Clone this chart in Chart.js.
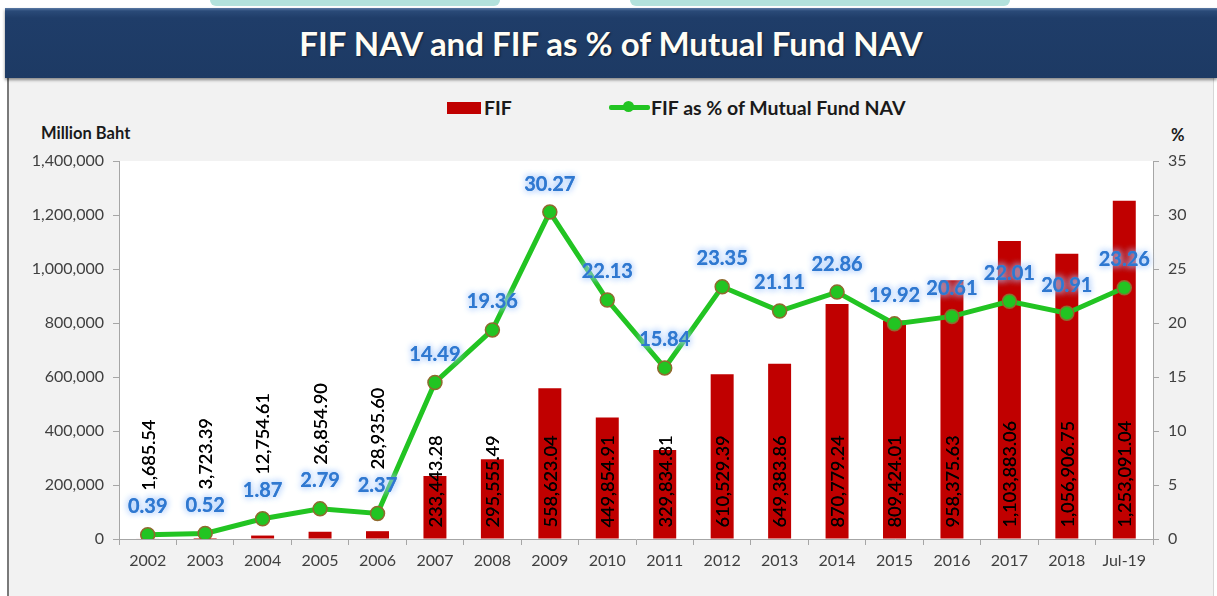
<!DOCTYPE html>
<html>
<head>
<meta charset="utf-8">
<script src="https://cdn.jsdelivr.net/npm/chart.js@4"></script>
<style>
  html, body { margin: 0; padding: 0; }
  body { width: 1217px; height: 596px; position: relative; overflow: hidden; background: #fff; font-family: Lato, "Open Sans", sans-serif; }
  .teal { position: absolute; top: 0; height: 6px; background: #b3e2dc; border-radius: 0 0 40px 40px; }
  #titleBar {
    position: absolute; left: 5px; top: 8px; width: 1212px; height: 70px;
    background: linear-gradient(#5a7aa5 0px, #2a4a78 3px, #1f3d69 10px, #1d3a64 100%);
    box-shadow: 0 2px 3px rgba(0,0,0,0.45);
    color: #fffdf5; font-weight: bold; font-size: 33px; text-align: center; line-height: 70px;
    text-shadow: 1px 1px 2px rgba(0,0,0,0.5); z-index: 2;
  }
  #panel { position: absolute; left: 7px; top: 78px; width: 1204px; height: 520px; background: #f2f2f2; border-left: 2px solid #7a7a7a; border-right: 1px solid #d6d6d6; }
  .lbl { position: absolute; font-weight: bold; color: #1a1a1a; }
  #legend { position: absolute; top: 96px; left: 447px; height: 24px; font-weight: bold; font-size: 19.5px; color: #1a1a1a; }
  #chartWrap { position: absolute; left: 10px; top: 140px; width: 1200px; height: 456px; }
</style>
</head>
<body>
<div class="teal" style="left:210px;width:290px;"></div>
<div class="teal" style="left:630px;width:380px;"></div>
<div id="panel"></div>
<div id="titleBar">FIF NAV and FIF as % of Mutual Fund NAV</div>
<div class="lbl" style="left:41px;top:123px;font-size:16.5px;">Million Baht</div>
<div class="lbl" style="left:1171px;top:125px;font-size:16.5px;">%</div>
<div id="legend">
  <span style="position:absolute;left:0;top:6px;width:34px;height:12px;background:#c00000;"></span>
  <span style="position:absolute;left:37px;top:0px;">FIF</span>
  <span style="position:absolute;left:162px;top:9px;width:41px;height:5px;background:#22c422;border-radius:2px;"></span>
  <span style="position:absolute;left:176px;top:5px;width:11px;height:11px;background:#22c422;border-radius:50%;"></span>
  <span style="position:absolute;left:204px;top:0px;white-space:nowrap;">FIF as % of Mutual Fund NAV</span>
</div>
<div id="chartWrap"><canvas id="chart" width="1200" height="456"></canvas></div>
<script>
// categories and series
const categories = ['2002', '2003', '2004', '2005', '2006', '2007', '2008', '2009', '2010',
  '2011', '2012', '2013', '2014', '2015', '2016', '2017', '2018', 'Jul-19'];
const fifNav = [1685.54, 3723.39, 12754.61, 26854.90, 28935.60, 233443.28, 295555.49,
  558623.04, 449854.91, 329834.81, 610529.39, 649383.86, 870779.24, 809424.01,
  958375.63, 1103883.06, 1056906.75, 1253091.04];
const fifPct = [0.39, 0.52, 1.87, 2.79, 2.37, 14.49, 19.36, 30.27, 22.13, 15.84,
  23.35, 21.11, 22.86, 19.92, 20.61, 22.01, 20.91, 23.26];
const leftMax = 1400000, leftStep = 200000;
const rightMax = 35, rightStep = 5;

const fmtNav = v => v.toLocaleString('en-US', { minimumFractionDigits: 2, maximumFractionDigits: 2 });

Chart.defaults.font.family = 'Lato, "Open Sans", sans-serif';

// white plot area
const plotBg = {
  id: 'plotBg',
  beforeDraw(chart) {
    const a = chart.chartArea;
    chart.ctx.save();
    chart.ctx.fillStyle = '#ffffff';
    chart.ctx.fillRect(a.left, a.top, a.right - a.left, a.bottom - a.top);
    chart.ctx.restore();
  }
};

// value labels
const valueLabels = {
  id: 'valueLabels',
  afterDatasetDraw(chart, args) {
    if (args.index !== 0) return;
    const ctx = chart.ctx;
    const lineMeta = chart.getDatasetMeta(1);
    ctx.save();
    ctx.font = '18px Lato, sans-serif';
    ctx.fillStyle = '#000';
    ctx.textAlign = 'left';
    ctx.textBaseline = 'middle';
    chart.getDatasetMeta(0).data.forEach((bar, i) => {
      let start;
      if (bar.base - bar.y < 30) start = lineMeta.data[i].y - 44;  // small bars: above the % label
      else start = bar.base - 11;
      ctx.save();
      ctx.translate(bar.x + 1, start);
      ctx.rotate(-Math.PI / 2);
      ctx.fillText(fmtNav(fifNav[i]), 0, 0);
      ctx.fillText(fmtNav(fifNav[i]), 0.3, 0);
      ctx.restore();
    });
    ctx.restore();
  },
  afterDatasetsDraw(chart) {
    const ctx = chart.ctx;
    ctx.save();
    ctx.font = 'bold 20px Lato, sans-serif';
    ctx.textAlign = 'center';
    ctx.textBaseline = 'middle';
    chart.getDatasetMeta(1).data.forEach((pt, i) => {
      const t = fifPct[i].toFixed(2);
      ctx.shadowColor = 'rgba(165,200,250,1)';
      ctx.shadowBlur = 7;
      ctx.fillStyle = '#2f78d0';
      ctx.fillText(t, pt.x, pt.y - 28);
      ctx.fillText(t, pt.x, pt.y - 28);
    });
    ctx.restore();
  }
};

new Chart(document.getElementById('chart'), {
  type: 'bar',
  data: {
    labels: categories,
    datasets: [
      {
        type: 'bar',
        label: 'FIF',
        data: fifNav,
        backgroundColor: '#c00000',
        borderWidth: 0,
        categoryPercentage: 1,
        barPercentage: 0.4,
        yAxisID: 'y',
        order: 1
      },
      {
        type: 'line',
        label: 'FIF as % of Mutual Fund NAV',
        data: fifPct,
        borderColor: '#22c422',
        borderWidth: 5,
        backgroundColor: '#22c422',
        pointRadius: 7,
        pointBorderColor: '#8f6a2e',
        pointBorderWidth: 1.5,
        pointBackgroundColor: '#22c422',
        tension: 0,
        yAxisID: 'y1',
        order: 0
      }
    ]
  },
  options: {
    responsive: false,
    animation: false,
    layout: { padding: { top: 21, left: 0, right: 0, bottom: 0 } },
    plugins: {
      legend: { display: false },
      tooltip: { enabled: false }
    },
    scales: {
      x: {
        afterFit: s => { s.height = 57; },
        grid: { drawOnChartArea: false, tickLength: 6, color: '#a6a6a6' },
        border: { color: '#a6a6a6', width: 1 },
        ticks: { color: '#404040', font: { size: 16 }, padding: 6, maxRotation: 0 }
      },
      y: {
        position: 'left',
        min: 0,
        max: leftMax,
        afterFit: s => { s.width = 109; },
        grid: { drawOnChartArea: false, tickLength: 6, color: '#a6a6a6' },
        border: { color: '#a6a6a6', width: 1 },
        ticks: {
          stepSize: leftStep,
          color: '#404040',
          font: { size: 16 },
          padding: 9,
          callback: v => v.toLocaleString('en-US')
        }
      },
      y1: {
        position: 'right',
        min: 0,
        max: rightMax,
        afterFit: s => { s.width = 57; },
        grid: { drawOnChartArea: false, tickLength: 6, color: '#a6a6a6' },
        border: { color: '#a6a6a6', width: 1 },
        ticks: { stepSize: rightStep, color: '#404040', font: { size: 16 }, padding: 9 }
      }
    }
  },
  plugins: [plotBg, valueLabels]
});
</script>
</body>
</html>
